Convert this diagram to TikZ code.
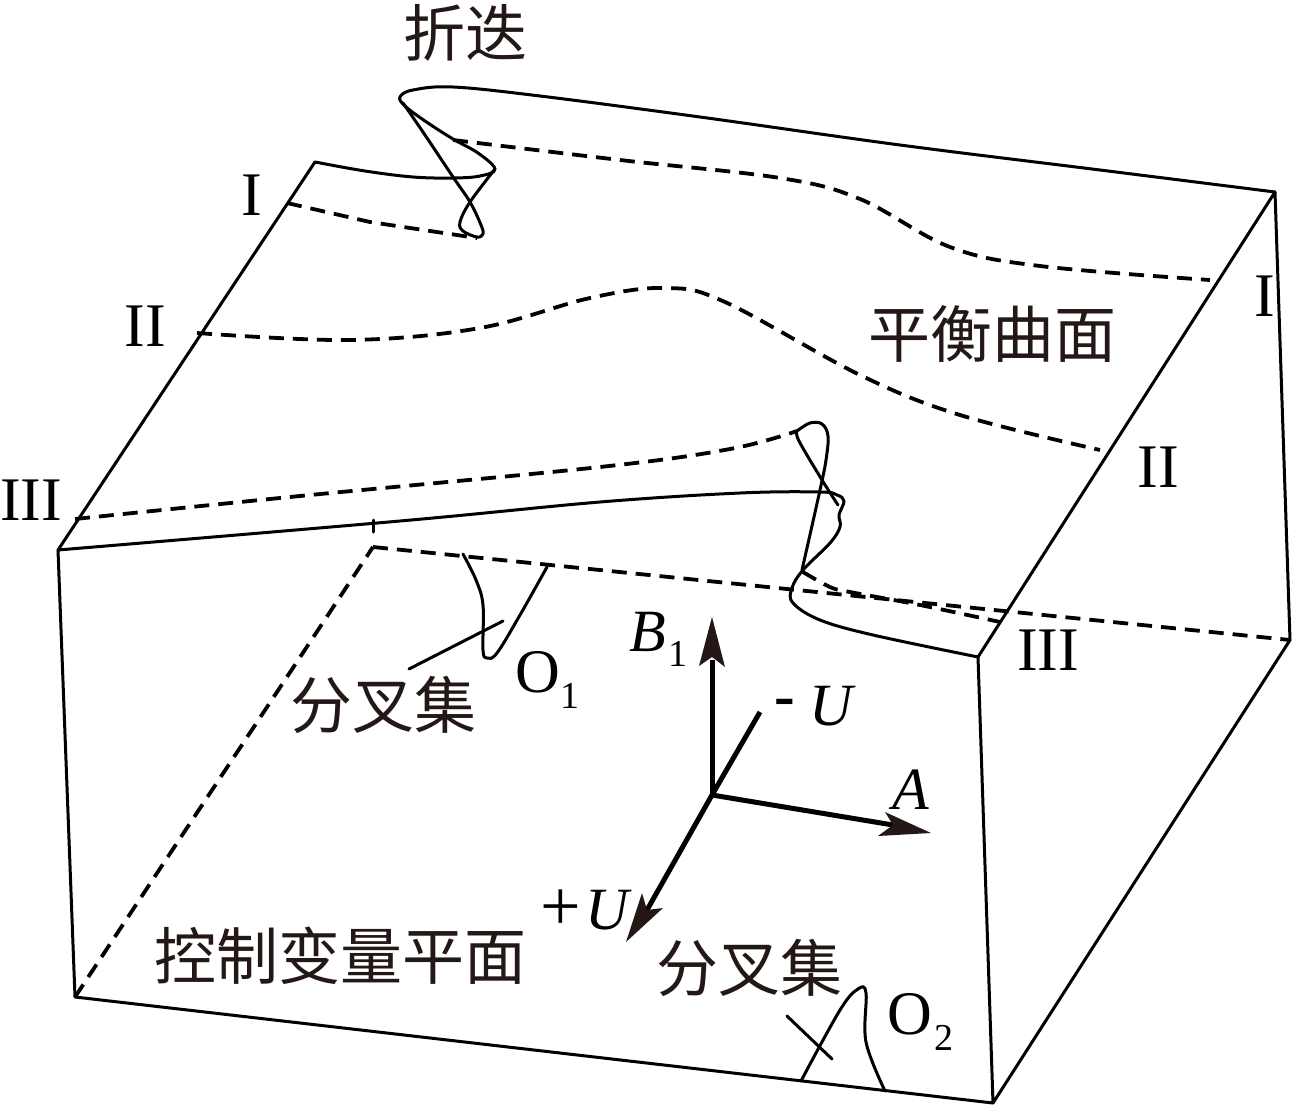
\documentclass[tikz,border=0pt]{standalone}
\usepackage{fontspec}
\setmainfont{Liberation Serif}
\newfontfamily\cjk{Noto Sans CJK SC}
\definecolor{tipc}{HTML}{231815}
\tikzset{
  edge/.style={line width=3pt,line join=round,line cap=round,black},
  dash line/.style={line width=3.8pt,dash pattern=on 15pt off 9pt,black},
  axisline/.style={line width=5pt,black},
  tip/.style={fill=tipc,draw=none},
  zh/.style={inner sep=0,font=\cjk\fontsize{62}{62}\selectfont,text=tipc},
  rm/.style={inner sep=0,font=\fontsize{62}{62}\selectfont,text=black},
  it/.style={inner sep=0,font=\itshape\fontsize{60}{60}\selectfont,text=black},
  sb/.style={inner sep=0,font=\fontsize{38}{38}\selectfont,text=black},
  smoothy/.style={smooth,tension=0.6}
}
\begin{document}
\begin{tikzpicture}[x=1pt,y=-1pt]
\useasboundingbox (0,0) rectangle (1296,1106);
% box corners
\coordinate (tb) at (315,162);
\coordinate (tl) at (58,550);
\coordinate (bl) at (75,997);
\coordinate (bf) at (993,1103);
\coordinate (tf) at (978,657);
\coordinate (tr) at (1275,192);
\coordinate (br) at (1290,640);
\coordinate (bb) at (373,547);
% box edges
\draw[edge] (tb) -- (tl) -- (bl) -- (bf) -- (tf) -- (tr) -- (br) -- (bf);
\draw[dash line] (bl) -- (bb);
\draw[edge] (373,520) -- (373,532);
\draw[dash line] (bb) -- (br);
% fold I, solid
\draw[edge] plot[smoothy] coordinates {(tb) (365,171) (413,177) (453,178) (480,176) (495,169) (478,153) (453,139) (425,121) (405,106) (400,97) (413,90) (453,87) (540,96) (700,117) (900,145) (1100,170) (tr)};
\draw[edge] plot[smoothy] coordinates {(403,103) (425,135) (453,177) (470,202) (481,225) (483,234) (477,237) (463,231) (460,222) (470,202) (495,169)};
\draw[dash line] (287,203) -- (370,222) -- (477,238);
\draw[dash line] plot[smoothy] coordinates {(453,140) (620,160) (780,178) (860,199) (950,247) (1040,266) (1210,280)};
% II
\draw[dash line] plot[smoothy] coordinates {(197,333) (350,340) (480,328) (590,298) (665,288) (725,302) (860,375) (960,415) (1100,450)};
% III
\draw[dash line] plot[smoothy] coordinates {(75,519) (300,496) (600,467) (730,449) (797,431)};
\draw[edge] plot[smoothy] coordinates {(797,431) (799,441) (822,480) (838,505)};
\draw[edge] plot[smoothy] coordinates {(797,431) (810,423) (822,424) (828,436) (826,460) (820,490) (802,570)};
\draw[edge] plot[smoothy] coordinates {(tl) (400,521) (600,502) (740,493) (820,492) (837,495) (844,501) (839,515) (840,527) (830,543) (803,570) (792,588) (793,603) (820,620) (873,635) (tf)};
\draw[dash line] plot[smoothy] coordinates {(803,572) (830,587) (850,592) (920,605) (1000,622)};
% O1
\draw[edge] plot[smoothy] coordinates {(463,554) (476,580) (483,605) (483,650) (487,658) (497,653) (520,615) (547,567)};
\draw[edge] (409,669) -- (503,621);
% O2
\draw[edge] plot[smoothy] coordinates {(801,1081) (840,1010) (858,989) (866,993) (866,1042) (885,1091)};
\draw[edge] (787,1016) -- (832,1059);
% axes
\coordinate (o) at (712,795);
\coordinate (bt) at (712,660);
\coordinate (at) at (893,825);
\coordinate (ut) at (647,910);
\coordinate (mu) at (760,712);
\draw[axisline] (o) -- (bt);
\draw[axisline] (o) -- (at);
\draw[axisline] (o) -- (ut);
\draw[axisline] (o) -- (mu);
\fill[tip] (712,617) -- (725,667) -- (712,657) -- (699,666) -- cycle;
\fill[tip] (931,833) -- (878,836) -- (893,825) -- (885,812) -- cycle;
\fill[tip] (626,942) -- (642,893) -- (647,910) -- (663,908) -- cycle;
% labels
\node[zh] (n1) at (465,33) {折迭};
\node[zh] (n2) at (992,334) {平衡曲面};
\node[zh] (n3) at (383,705) {分叉集};
\node[zh] (n4) at (749,968) {分叉集};
\node[zh] (n5) at (340,956) {控制变量平面};
\node[rm] (r1) at (252,195) {I};
\node[rm] (r2) at (145,326) {II};
\node[rm] (r3) at (31,500) {III};
\node[rm] (r4) at (1265,296) {I};
\node[rm] (r5) at (1158,467) {II};
\node[rm] (r6) at (1048,650) {III};
\node[rm] (o1) at (538,672) {O};
\node[sb] (o1s) at (570,696) {1};
\node[rm] (o2) at (910,1014) {O};
\node[sb] (o2s) at (944,1038) {2};
\node[it] (b) at (648,632) {B};
\node[sb] (bs) at (678,654) {1};
\node[rm,font=\bfseries\fontsize{62}{62}\selectfont] (mn) at (785,708) {-};
\node[it] (u1) at (831,706) {U};
\node[it] (a) at (911,790) {A};
\node[rm,font=\fontsize{72}{72}\selectfont] (pl) at (561,910) {+};
\node[it] (u2) at (607,910) {U};
\end{tikzpicture}
\end{document}
